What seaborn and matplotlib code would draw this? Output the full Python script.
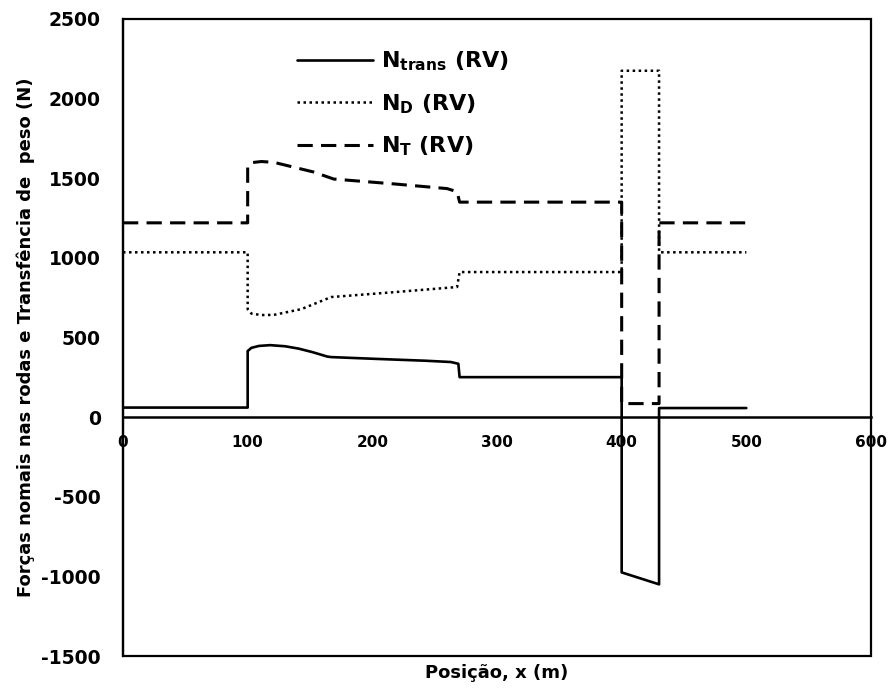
import matplotlib
matplotlib.use("Agg")
import matplotlib.pyplot as plt
import seaborn as sns
from matplotlib.patches import Rectangle

# ---- data ----
x_trans = [0, 100, 100, 103, 109, 118, 130, 141, 152, 164, 167, 202, 243, 263, 269, 270, 400, 400, 430, 430, 500]
y_trans = [60, 60, 415, 435, 447, 452, 445, 430, 408, 380, 377, 366, 354, 346, 335, 251, 251, -975, -1050, 57, 57]

x_d = [0, 100, 100, 103, 111, 121, 143, 167, 218, 268, 270, 400, 400, 430, 430, 500]
y_d = [1035, 1035, 678, 650, 641, 642, 678, 754, 785, 817, 911, 911, 2175, 2175, 1035, 1035]

x_t = [0, 100, 100, 103, 111, 121, 133, 153, 169, 218, 260, 268, 270, 400, 400, 430, 430, 500]
y_t = [1220, 1220, 1577, 1598, 1605, 1600, 1577, 1539, 1495, 1464, 1435, 1415, 1350, 1350, 85, 85, 1220, 1220]

labels = ["N$_{trans}$ (RV)", "N$_{D}$ (RV)", "N$_{T}$ (RV)"]
x_ticks = [0, 100, 200, 300, 400, 500, 600]
y_ticks = [-1500, -1000, -500, 0, 500, 1000, 1500, 2000, 2500]
x_label = "Posição, x (m)"
y_label = "Forças nomais nas rodas e Transfência de  peso (N)"

sns.set_theme(style="white")
plt.rcParams["font.family"] = ["DejaVu Sans"]
plt.rcParams["font.weight"] = "bold"
plt.rcParams["mathtext.fontset"] = "dejavusans"
plt.rcParams["mathtext.default"] = "bf"

fig = plt.figure(figsize=(8.92, 6.88), dpi=100)
L, R, T, B = 123, 871, 19, 656
ax = fig.add_axes([L/892, 1-B/688, (R-L)/892, (B-T)/688])

sns.lineplot(x=x_trans, y=y_trans, sort=False, estimator=None, ax=ax,
             color="black", lw=1.9, linestyle="-", label=labels[0])
sns.lineplot(x=x_d, y=y_d, sort=False, estimator=None, ax=ax,
             color="black", lw=1.8, linestyle=(0, (1, 1.4)), label=labels[1])
sns.lineplot(x=x_t, y=y_t, sort=False, estimator=None, ax=ax,
             color="black", lw=2.2, linestyle=(0, (5, 2.7)), label=labels[2])

ax.set_xlim(0, 600)
ax.set_ylim(-1500, 2500)
ax.set_xticks(x_ticks)
ax.set_yticks(y_ticks)
ax.set_xticklabels([str(v) for v in x_ticks], fontsize=13, fontweight="bold")
ax.set_yticklabels([str(v) for v in y_ticks], fontsize=13.5, fontweight="bold")
ax.tick_params(axis="both", length=0, colors="black")
ax.tick_params(axis="y", pad=16)
ax.tick_params(axis="x", pad=13)

for s in ["top", "right"]:
    ax.spines[s].set_visible(False)
ax.spines["left"].set_color("black")
ax.spines["left"].set_linewidth(1.6)
ax.spines["bottom"].set_position(("data", 0))
ax.spines["bottom"].set_color("black")
ax.spines["bottom"].set_linewidth(1.8)
ax.add_patch(Rectangle((0, 0), 1, 1, transform=ax.transAxes, fill=False,
                       edgecolor="black", lw=1.6, clip_on=False, zorder=5))

ax.set_ylabel(y_label, fontsize=13, fontweight="bold", color="black")
ax.yaxis.set_label_coords(-0.118, 0.5)
ax.set_xlabel("")
fig.text(497/892, 1 - 673/688, x_label, ha="center", va="center",
         fontsize=13, fontweight="bold", color="black")

leg = ax.legend(loc="upper left", bbox_to_anchor=(0.2326, 0.952), frameon=False,
                fontsize=16, handlelength=3.4, labelspacing=0.85, handletextpad=0.4,
                borderpad=0, borderaxespad=0)
for t in leg.get_texts():
    t.set_color("black")

fig.savefig("out.png", dpi=100)
